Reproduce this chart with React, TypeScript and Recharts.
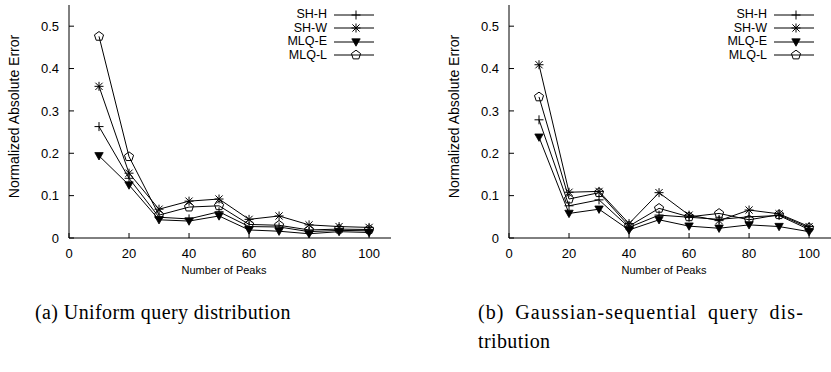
import React from 'react'
import { LineChart, Line, XAxis, YAxis, Legend } from 'recharts'

// number of peaks on the x axis
const peaks = [10, 20, 30, 40, 50, 60, 70, 80, 90, 100]

// (a) uniform query distribution
const uniformShH = [0.263, 0.141, 0.049, 0.045, 0.062, 0.027, 0.026, 0.015, 0.018, 0.017]
const uniformShW = [0.358, 0.153, 0.068, 0.087, 0.092, 0.044, 0.052, 0.031, 0.027, 0.025]
const uniformMlqE = [0.194, 0.125, 0.043, 0.04, 0.052, 0.019, 0.016, 0.01, 0.015, 0.013]
const uniformMlqL = [0.476, 0.192, 0.054, 0.073, 0.076, 0.032, 0.03, 0.019, 0.021, 0.02]

// (b) gaussian-sequential query distribution
const gaussShH = [0.279, 0.076, 0.09, 0.025, 0.054, 0.049, 0.044, 0.05, 0.053, 0.02]
const gaussShW = [0.409, 0.108, 0.11, 0.034, 0.107, 0.054, 0.041, 0.066, 0.057, 0.027]
const gaussMlqE = [0.238, 0.058, 0.068, 0.019, 0.043, 0.028, 0.023, 0.031, 0.027, 0.015]
const gaussMlqL = [0.333, 0.092, 0.107, 0.028, 0.07, 0.05, 0.058, 0.043, 0.055, 0.024]

const seriesNames = ['SH-H', 'SH-W', 'MLQ-E', 'MLQ-L']
const seriesKeys = ['shh', 'shw', 'mlqe', 'mlql']
const xTicks = [0, 20, 40, 60, 80, 100]
const yTicks = [0, 0.1, 0.2, 0.3, 0.4, 0.5]

const captionA = '(a) Uniform query distribution'
const captionB = ['(b) Gaussian-sequential query dis-', 'tribution']

type Kind = 'plus' | 'star' | 'tri' | 'pent'
const markerKinds: Kind[] = ['plus', 'star', 'tri', 'pent']

const buildRows = (a: number[], b: number[], c: number[], d: number[]) =>
  peaks.map((p, i) => ({ peaks: p, shh: a[i], shw: b[i], mlqe: c[i], mlql: d[i] }))

const uniformData = buildRows(uniformShH, uniformShW, uniformMlqE, uniformMlqL)
const gaussData = buildRows(gaussShH, gaussShW, gaussMlqE, gaussMlqL)

const SANS = '"Liberation Sans", Arial, Helvetica, sans-serif'

function Marker({ kind, cx, cy }: { kind: Kind; cx: number; cy: number }) {
  const r = 4.5
  if (kind === 'plus') {
    return (
      <g stroke="#000" strokeWidth={1}>
        <line x1={cx - r} x2={cx + r} y1={cy} y2={cy} />
        <line x1={cx} x2={cx} y1={cy - r} y2={cy + r} />
      </g>
    )
  }
  if (kind === 'star') {
    const d = 3.6
    return (
      <g stroke="#000" strokeWidth={1}>
        <line x1={cx - r} x2={cx + r} y1={cy} y2={cy} />
        <line x1={cx} x2={cx} y1={cy - r} y2={cy + r} />
        <line x1={cx - d} x2={cx + d} y1={cy - d} y2={cy + d} />
        <line x1={cx - d} x2={cx + d} y1={cy + d} y2={cy - d} />
      </g>
    )
  }
  if (kind === 'tri') {
    const pts = `${cx - 4.2},${cy - 3.2} ${cx + 4.2},${cy - 3.2} ${cx},${cy + 4.2}`
    return <polygon points={pts} fill="#000" stroke="#000" strokeWidth={0.8} />
  }
  const pts = [0, 1, 2, 3, 4]
    .map((k) => {
      const a = ((-90 + 72 * k) * Math.PI) / 180
      return `${cx + 4.8 * Math.cos(a)},${cy + 4.8 * Math.sin(a)}`
    })
    .join(' ')
  return <polygon points={pts} fill="none" stroke="#000" strokeWidth={1} />
}

const fmtY = (v: number) => (v === 0 ? '0' : v.toFixed(1))

function BottomTick(props: any) {
  const { x, y, payload } = props
  return (
    <g>
      <line x1={x} x2={x} y1={y - 10} y2={y - 15} stroke="#000" />
      <text x={x} y={y} dy="0.75em" textAnchor="middle" fontSize={13} fontFamily={SANS} fill="#000">
        {payload.value}
      </text>
    </g>
  )
}

function TopTick(props: any) {
  const { x, y } = props
  return <line x1={x} x2={x} y1={y} y2={y + 5} stroke="#000" />
}

function LeftTick(props: any) {
  const { x, y, payload } = props
  return (
    <g>
      <line x1={x + 10} x2={x + 15} y1={y} y2={y} stroke="#000" />
      <text x={x} y={y} dy="0.36em" textAnchor="end" fontSize={13} fontFamily={SANS} fill="#000">
        {fmtY(payload.value)}
      </text>
    </g>
  )
}

function RightTick(props: any) {
  const { x, y } = props
  return <line x1={x} x2={x - 5} y1={y} y2={y} stroke="#000" />
}

function LegendBox() {
  return (
    <div style={{ fontFamily: SANS, fontSize: 12.5, color: '#000' }}>
      {seriesNames.map((name, i) => (
        <div key={name} style={{ display: 'flex', justifyContent: 'flex-end', alignItems: 'center', height: 13.5 }}>
          <span style={{ marginRight: 7, lineHeight: '13.5px' }}>{name}</span>
          <svg width={40} height={12} style={{ display: 'block' }}>
            <line x1={0} x2={40} y1={6} y2={6} stroke="#000" />
            <Marker kind={markerKinds[i]} cx={22} cy={6} />
          </svg>
        </div>
      ))}
    </div>
  )
}

function ErrorChart({ data }: { data: any[] }) {
  return (
    <LineChart width={415} height={282} data={data} margin={{ top: 5, right: 24, bottom: 0, left: 0 }}>
      <XAxis
        dataKey="peaks"
        type="number"
        domain={[0, 107.3]}
        ticks={xTicks}
        interval={0}
        allowDataOverflow
        height={44}
        tickSize={0}
        tickMargin={10}
        tickLine={false}
        axisLine={{ stroke: '#000' }}
        tick={BottomTick}
        label={(p: any) => (
          <text
            x={p.viewBox.x + p.viewBox.width / 2 - 6}
            y={p.viewBox.y + 36}
            textAnchor="middle"
            fontSize={11}
            fontFamily={SANS}
            fill="#000"
          >
            Number of Peaks
          </text>
        )}
      />
      <XAxis
        xAxisId="top"
        orientation="top"
        dataKey="peaks"
        type="number"
        domain={[0, 107.3]}
        ticks={xTicks}
        interval={0}
        allowDataOverflow
        height={0}
        tickSize={0}
        tickMargin={0}
        tickLine={false}
        axisLine={{ stroke: '#000' }}
        tick={TopTick}
      />
      <YAxis
        type="number"
        domain={[0, 0.55]}
        ticks={yTicks}
        interval={0}
        allowDataOverflow
        width={69}
        tickSize={0}
        tickMargin={10}
        tickLine={false}
        axisLine={{ stroke: '#000' }}
        tick={LeftTick}
        label={(p: any) => {
          const cy = p.viewBox.y + p.viewBox.height / 2 - 5
          return (
            <text
              x={14}
              y={cy}
              transform={`rotate(-90, 14, ${cy})`}
              textAnchor="middle"
              dominantBaseline="central"
              fontSize={14}
              fontFamily={SANS}
              fill="#000"
            >
              Normalized Absolute Error
            </text>
          )
        }}
      />
      <YAxis
        yAxisId="right"
        orientation="right"
        type="number"
        domain={[0, 0.55]}
        ticks={yTicks}
        interval={0}
        allowDataOverflow
        width={0}
        tickSize={0}
        tickMargin={0}
        tickLine={false}
        axisLine={{ stroke: '#000' }}
        tick={RightTick}
      />
      {seriesKeys.map((key, i) => (
        <Line
          key={key}
          dataKey={key}
          name={seriesNames[i]}
          type="linear"
          stroke="#000"
          strokeWidth={1}
          isAnimationActive={false}
          dot={(p: any) => <Marker key={`${key}-${p.index}`} kind={markerKinds[i]} cx={p.cx} cy={p.cy} />}
          activeDot={false}
        />
      ))}
      <Legend
        layout="vertical"
        align="center"
        verticalAlign="middle"
        content={() => <LegendBox />}
        wrapperStyle={{ position: 'absolute', top: 8, right: 41, left: 'auto', width: 'auto' }}
      />
    </LineChart>
  )
}

export default function App() {
  const serif = '"Liberation Serif", "Times New Roman", serif'
  const captionStyle = {
    position: 'absolute' as const,
    top: 298,
    fontFamily: serif,
    fontSize: 20,
    letterSpacing: 0.4,
    lineHeight: '29px',
    color: '#000',
  }
  return (
    <div style={{ position: 'absolute', left: 0, top: 0, width: 831, height: 372, background: '#fff', overflow: 'hidden' }}>
      <div style={{ position: 'absolute', left: 0, top: 0 }}>
        <ErrorChart data={uniformData} />
      </div>
      <div style={{ position: 'absolute', left: 440, top: 0 }}>
        <ErrorChart data={gaussData} />
      </div>
      <div style={{ ...captionStyle, left: 35, whiteSpace: 'pre' }}>{captionA}</div>
      <div style={{ ...captionStyle, left: 478, width: 326 }}>
        <div style={{ textAlign: 'justify', textAlignLast: 'justify', whiteSpace: 'normal', letterSpacing: 1.1 }}>
          {captionB[0]}
        </div>
        <div style={{ whiteSpace: 'pre' }}>{captionB[1]}</div>
      </div>
    </div>
  )
}
